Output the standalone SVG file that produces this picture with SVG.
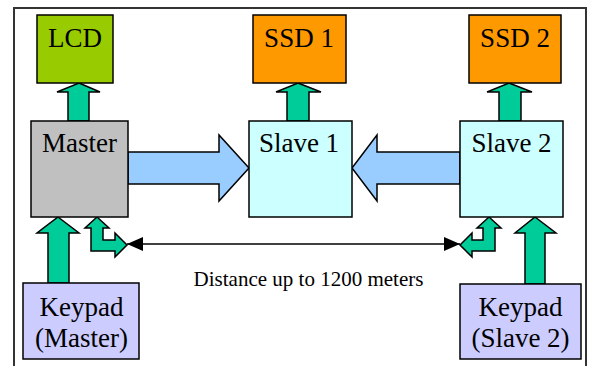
<svg xmlns="http://www.w3.org/2000/svg" width="590" height="366" viewBox="0 0 590 366">
<style>
.box{stroke:#000;stroke-width:1.5}
.lbl{font-family:"Liberation Serif","Times New Roman",serif;font-size:27px;fill:#000;text-anchor:middle}
.g{fill:#00CC99;stroke:#000;stroke-width:1.5;stroke-linejoin:miter}
.b{fill:#99CCFF;stroke:#000;stroke-width:1.5}
.frame{fill:none;stroke:#333;stroke-width:2}
.dist{font-family:"Liberation Serif","Times New Roman",serif;font-size:21px;fill:#000;text-anchor:middle}
</style>
<defs>
<marker id="ah" markerUnits="userSpaceOnUse" markerWidth="16" markerHeight="14" viewBox="0 0 16 14" refX="16" refY="7" orient="auto-start-reverse">
<path d="M0,0 L16,7 L0,14 Z" fill="#000"/>
</marker>
</defs>
<rect width="590" height="366" fill="#fff"/>
<path class="frame" d="M14,366 V8 H586 V366"/>
<g id="connectors">
<polygon class="g" points="79,83 100,92 89,92 89,121 68,121 68,92 57,92"/>
<polygon class="g" points="298,83 321,92 309,92 309,121 287,121 287,92 276,92"/>
<polygon class="g" points="509,83 532,92 521,92 521,121 499,121 499,92 487,92"/>
<polygon class="b" points="128,152 219,152 219,135 249,168 219,201 219,184 128,184"/>
<polygon class="b" points="460,152 377,152 377,135 352,168 377,201 377,184 460,184"/>
<polygon class="g" points="58,217 79,233 69,233 69,283 48,283 48,233 37,233"/>
<polygon class="g" points="535,217 556,233 545,233 545,284 525,284 525,233 515,233"/>
<polygon class="g" points="97,217 109,228 103,228 103,240 115,240 115,233 127,245 115,257 115,251 91,251 91,228 85,228"/>
<polygon class="g" points="489,217 501,228 495,228 495,251 472,251 472,257 460,245 472,233 472,240 483,240 483,228 477,228"/>
<line x1="127" y1="244" x2="460" y2="244" stroke="#000" stroke-width="1.5" marker-start="url(#ah)" marker-end="url(#ah)"/>
<text class="dist" x="308.5" y="286">Distance up to 1200 meters</text>
</g>
<g id="lcd">
<rect class="box" x="37" y="15" width="76" height="68" fill="#99CC00"/>
<text class="lbl" x="75" y="47">LCD</text>
</g>
<g id="ssd1">
<rect class="box" x="253" y="15" width="93" height="68" fill="#FF9900"/>
<text class="lbl" x="299" y="47">SSD 1</text>
</g>
<g id="ssd2">
<rect class="box" x="469" y="15" width="92" height="68" fill="#FF9900"/>
<text class="lbl" x="515" y="47">SSD 2</text>
</g>
<g id="master">
<rect class="box" x="31" y="121" width="97" height="96" fill="#C0C0C0"/>
<text class="lbl" x="79.5" y="152">Master</text>
</g>
<g id="slave1">
<rect class="box" x="249" y="121" width="103" height="96" fill="#CCFFFF"/>
<text class="lbl" x="299" y="152">Slave 1</text>
</g>
<g id="slave2">
<rect class="box" x="460" y="121" width="103" height="96" fill="#CCFFFF"/>
<text class="lbl" x="511.5" y="152">Slave 2</text>
</g>
<g id="keypad-master">
<rect class="box" x="23" y="283" width="116" height="76" fill="#CCCCFF"/>
<text class="lbl" x="81.5" y="316">Keypad</text>
<text class="lbl" x="81.5" y="347">(Master)</text>
</g>
<g id="keypad-slave2">
<rect class="box" x="460" y="284" width="121" height="75" fill="#CCCCFF"/>
<text class="lbl" x="520.5" y="316">Keypad</text>
<text class="lbl" x="520.5" y="347">(Slave 2)</text>
</g>
</svg>
